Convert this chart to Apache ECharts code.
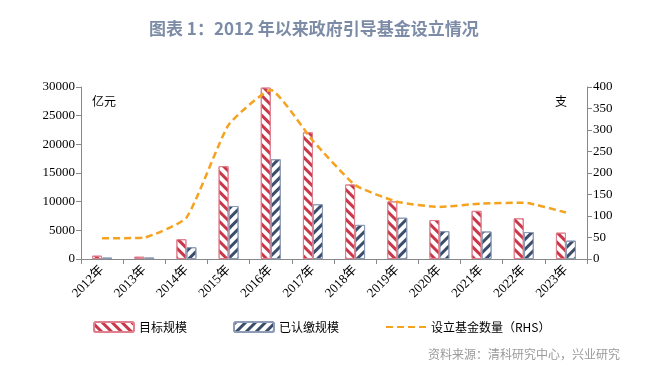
<!DOCTYPE html>
<html>
<head>
    <meta charset="utf-8">
    <title>政府引导基金设立情况</title>
    <script src="https://cdn.jsdelivr.net/npm/echarts@6/dist/echarts.min.js"></script>
    <style>
        html, body { margin: 0; padding: 0; background: #fff; }
        #chart { width: 650px; height: 376px; }
    </style>
</head>
<body>
<div id="chart"></div>
<script type="text/javascript">
    // 数据
    var years = ['2012年', '2013年', '2014年', '2015年', '2016年', '2017年', '2018年', '2019年', '2020年', '2021年', '2022年', '2023年'];
    var targetScale = [580, 400, 3450, 16200, 29900, 22100, 13000, 10050, 6800, 8400, 7100, 4600];   // 目标规模（亿元）
    var paidScale = [250, 260, 2050, 9250, 17400, 9550, 5950, 7200, 4850, 4800, 4700, 3200];         // 已认缴规模（亿元）
    var fundCount = [48, 50, 96, 312, 393, 275, 172, 133, 121, 129, 131, 108];                       // 设立基金数量（支）
    var leftTicks = [0, 30000, 5000];
    var rightTicks = [0, 400, 50];

    var serif = '"Liberation Serif", "Noto Sans CJK SC", serif';
    var cjk = '"Noto Sans CJK SC", sans-serif';

    var myChart = echarts.init(document.getElementById('chart'));

    var option = {
        backgroundColor: '#fff',
        animation: false,
        title: {
            text: '图表 1：2012 年以来政府引导基金设立情况',
            left: 144,
            top: 15,
            textStyle: { color: '#7d8ca6', fontSize: 17, fontWeight: 'bold', fontFamily: cjk }
        },
        legend: {
            left: 88,
            top: 316,
            itemWidth: 40,
            itemHeight: 10,
            itemGap: 46,
            textStyle: { color: '#000', fontSize: 12, fontFamily: cjk },
            data: ['目标规模', '已认缴规模', { name: '设立基金数量（RHS）', itemStyle: { opacity: 0 } }]
        },
        grid: { left: 81, right: 63, top: 87, bottom: 117 },
        xAxis: {
            type: 'category',
            data: years,
            axisLine: { lineStyle: { color: '#888' } },
            axisTick: { show: true, length: 5, lineStyle: { color: '#888' } },
            axisLabel: { rotate: 45, color: '#000', fontSize: 13, fontFamily: serif, margin: 9 }
        },
        yAxis: [{
            type: 'value',
            min: leftTicks[0],
            max: leftTicks[1],
            interval: leftTicks[2],
            splitLine: { show: false },
            axisLine: { show: true, lineStyle: { color: '#888' } },
            axisTick: { show: true, length: 5, lineStyle: { color: '#888' } },
            axisLabel: { color: '#000', fontSize: 13, fontFamily: serif, margin: 6, formatter: function (v) { return String(v); } }
        }, {
            type: 'value',
            min: rightTicks[0],
            max: rightTicks[1],
            interval: rightTicks[2],
            splitLine: { show: false },
            axisLine: { show: true, lineStyle: { color: '#888' } },
            axisTick: { show: true, length: 5, lineStyle: { color: '#888' } },
            axisLabel: { color: '#000', fontSize: 13, fontFamily: serif, margin: 6 }
        }],
        graphic: [
            { type: 'text', left: 92, top: 95, style: { text: '亿元', fill: '#000', font: '12px ' + cjk } },
            { type: 'text', left: 555, top: 95, style: { text: '支', fill: '#000', font: '12px ' + cjk } },
            { type: 'text', left: 428, top: 348, style: { text: '资料来源：清科研究中心，兴业研究', fill: '#9a9a9a', font: '12px ' + cjk } }
        ],
        series: [{
            name: '目标规模',
            type: 'bar',
            data: targetScale,
            barWidth: 10,
            barGap: '0%',
            itemStyle: {
                color: '#fff',
                borderColor: '#e0808e',
                borderWidth: 1,
                decal: {
                    symbol: 'rect',
                    symbolSize: 1,
                    color: '#c8374a',
                    dashArrayX: [1, 0],
                    dashArrayY: [2.5, 3.5],
                    rotation: Math.PI / 4
                }
            }
        }, {
            name: '已认缴规模',
            type: 'bar',
            data: paidScale,
            barWidth: 10,
            itemStyle: {
                color: '#fff',
                borderColor: '#8d9bb5',
                borderWidth: 1,
                decal: {
                    symbol: 'rect',
                    symbolSize: 1,
                    color: '#3c4d6b',
                    dashArrayX: [1, 0],
                    dashArrayY: [2.5, 3.5],
                    rotation: -Math.PI / 4
                }
            }
        }, {
            name: '设立基金数量（RHS）',
            type: 'line',
            yAxisIndex: 1,
            data: fundCount,
            smooth: 0.15,
            symbol: 'none',
            lineStyle: { color: '#f5a21f', width: 2.5, type: [7, 4] },
            itemStyle: { color: '#f5a21f' }
        }]
    };

    myChart.setOption(option);
</script>
</body>
</html>
